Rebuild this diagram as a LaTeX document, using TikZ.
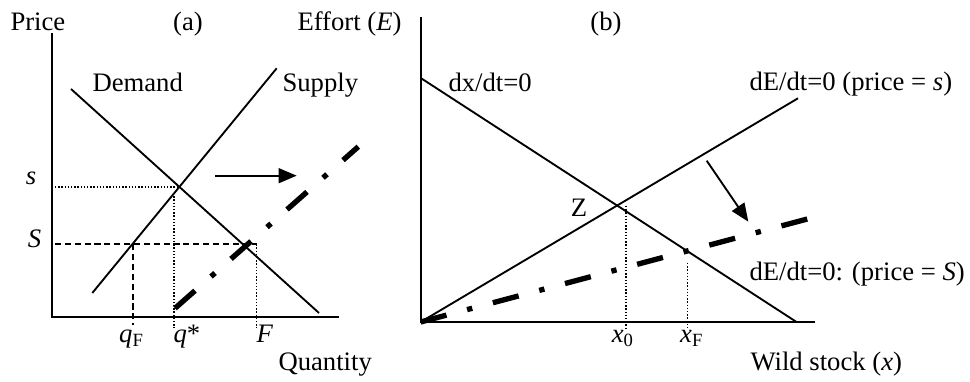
\documentclass[tikz,border=0pt]{standalone}
\usepackage{fontspec}
\setmainfont{Liberation Serif}
\usetikzlibrary{arrows.meta, positioning, calc}

\begin{document}
\begin{tikzpicture}[
  x=0.375pt, y=-0.375pt,
  lbl/.style={inner sep=0pt, font=\normalsize},
  axis/.style={line width=0.8pt},
  curve/.style={line width=0.7pt},
  guide/.style={line width=0.55pt, dash pattern=on 0.5pt off 0.7pt},
  dashguide/.style={line width=0.6pt, dash pattern=on 2.3pt off 1.4pt},
  shifted/.style={line width=2pt, dash pattern=on 10pt off 8pt on 2pt off 8pt},
  arrow/.style={-{Triangle[length=6.8pt, width=5.6pt]}, line width=0.7pt}
]
  \useasboundingbox (0,0) rectangle (970,382);

  \coordinate (atop) at (51.7,33);
  \coordinate (aorig) at (51.7,317);
  \coordinate (aend) at (339,317);
  \coordinate (dem1) at (71,89);
  \coordinate (dem2) at (319,313);
  \coordinate (sup1) at (92.3,293);
  \coordinate (sup2) at (276.7,68.3);
  \coordinate (eq) at (179.4,187);
  \coordinate (shf1) at (175,308.3);
  \coordinate (shf2) at (358.3,146.7);
  \coordinate (ar1) at (215,175.7);
  \coordinate (ar2) at (296.7,175.7);

  \node[lbl, anchor=base west] (price) at (10,30.5) {Price};
  \node[lbl, anchor=base] (capa) at (188,30.5) {(a)};
  \node[lbl, anchor=base west] (effort) at (297,30.5) {Effort (\textit{E})};
  \node[lbl, anchor=base west] (demand) at (92,92) {Demand};
  \node[lbl, anchor=base west] (supply) at (282,92) {Supply};
  \node[lbl, anchor=base] (slow) at (31,185) {\textit{s}};
  \node[lbl, anchor=base] (shigh) at (34.5,248) {\textit{S}};
  \node[lbl, anchor=base] (qf) at (131.7,343) {\textit{q}\textsubscript{F}};
  \node[lbl, anchor=base west] (qstar) at (173,343) {\textit{q}*};
  \node[lbl, anchor=base] (flab) at (265,343) {\textit{F}};
  \node[lbl, anchor=base west] (quantity) at (278,371) {Quantity};

  \draw[axis] (atop) -- (aorig) -- (aend);
  \draw[curve] (dem1) -- (dem2);
  \draw[curve] (sup1) -- (sup2);
  \draw[guide] (55,187) -- (eq);
  \draw[guide] (174,193) -- (174,328);
  \draw[dashguide] (55,244.3) -- (256.7,244.3);
  \draw[dashguide] (133,244.3) -- (133,325);
  \draw[guide] (256.7,244.3) -- (256.7,328);
  \draw[shifted] (shf1) -- (shf2);
  \draw[arrow] (ar1) -- (ar2);

  \coordinate (btop) at (420.7,16.7);
  \coordinate (borig) at (420.7,322);
  \coordinate (bend) at (815,322);
  \coordinate (dx1) at (420.7,78);
  \coordinate (dx2) at (796.5,322);
  \coordinate (des) at (798,98.3);
  \coordinate (deS) at (810,218.3);
  \coordinate (br1) at (706.7,160.7);
  \coordinate (br2) at (748.3,221.7);

  \node[lbl, anchor=base] (capb) at (606,31) {(b)};
  \node[lbl, anchor=base west] (dxdt) at (448,92) {dx/dt=0};
  \node[lbl, anchor=base west] (dedts) at (749,91) {dE/dt=0 (price = \textit{s})};
  \node[lbl, anchor=base] (zlab) at (579,217) {Z};
  \node[lbl, anchor=base west] (dedtS) at (749,281) {dE/dt=0: (price = \textit{S})};
  \node[lbl, anchor=base] (x0) at (623,343) {\textit{x}\textsubscript{0}};
  \node[lbl, anchor=base] (xf) at (692,343) {\textit{x}\textsubscript{F}};
  \node[lbl, anchor=base west] (wild) at (750,371) {Wild stock (\textit{x})};

  \draw[axis] (btop) -- (borig) -- (bend);
  \draw[curve] (dx1) -- (dx2);
  \draw[curve] (borig) -- (des);
  \draw[guide] (626,206) -- (626,329);
  \draw[guide] (687.3,263) -- (687.3,329);
  \draw[shifted] (borig) -- (deS);
  \draw[arrow] (br1) -- (br2);
\end{tikzpicture}
\end{document}
